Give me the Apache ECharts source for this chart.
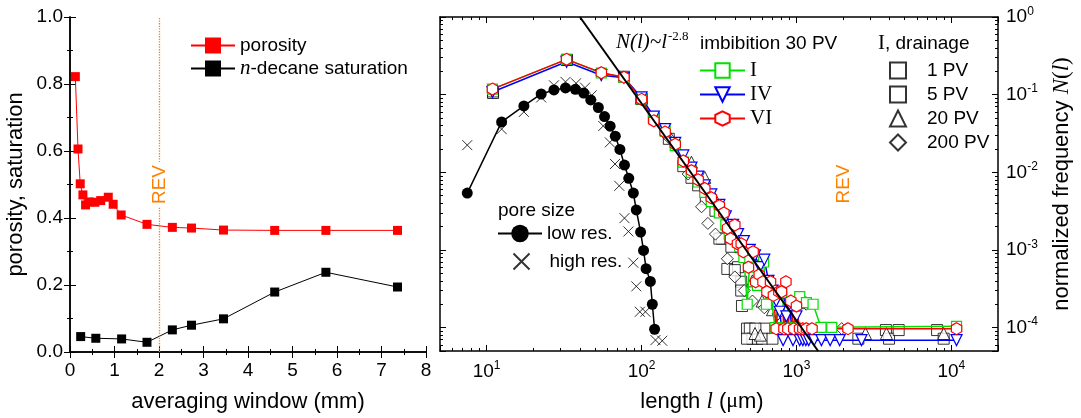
<!DOCTYPE html>
<html>
<head>
<meta charset="utf-8">
<script src="https://cdn.jsdelivr.net/npm/echarts@6/dist/echarts.min.js"></script>
<style>
  html, body { margin: 0; padding: 0; background: #fff; }
  #chart { width: 1081px; height: 418px; }
</style>
</head>
<body>
<div id="chart"></div>
<script>
// ---- left panel: averaging window (mm) ----
const porWin = [0.12, 0.18, 0.23, 0.29, 0.35, 0.43, 0.56, 0.69, 0.86, 0.97, 1.15, 1.73, 2.30, 2.73, 3.45, 4.60, 5.75, 7.36];
const porosity = [0.822, 0.606, 0.502, 0.469, 0.439, 0.448, 0.447, 0.452, 0.462, 0.441, 0.409, 0.381, 0.372, 0.370, 0.364, 0.363, 0.363, 0.363];
const satWin = [0.24, 0.58, 1.16, 1.73, 2.30, 2.73, 3.45, 4.60, 5.75, 7.36];
const saturation = [0.046, 0.041, 0.039, 0.029, 0.066, 0.080, 0.099, 0.179, 0.238, 0.194];
const revWindow = 2;

// ---- right panel: length l (um) vs normalized frequency ----
const lowResL = [7.5, 12.5, 17.4, 22.5, 27.2, 32.3, 37.4, 42.3, 47.0, 52.6, 57.7, 62.7, 67.7, 72.5, 77.6, 82.7, 88.5, 92.5, 98.6, 103, 107, 114, 117.4, 121.4];
const lowResN = [0.0054, 0.0446, 0.0716, 0.102, 0.115, 0.122, 0.117, 0.105, 0.0855, 0.0683, 0.0523, 0.0393, 0.0292, 0.0197, 0.0124, 0.00838, 0.0054, 0.00328, 0.0017, 0.000986, 0.000574, 0.000394, 0.0002, 0.0000953];
const highResL = [7.5, 12.5, 17.4, 22.5, 27.2, 32.3, 37.8, 43.2, 47.7, 56.6, 62.4, 67.4, 71.8, 77.6, 82.3, 88.5, 92.5, 97.5, 106, 123, 136];
const highResN = [0.0224, 0.036, 0.06, 0.092, 0.132, 0.146, 0.14, 0.123, 0.098, 0.0395, 0.0243, 0.0128, 0.0067, 0.00257, 0.00173, 0.000685, 0.00034, 0.00016, 0.00016, 0.0000691, 0.0000677];

const imbIL = [10.9, 32.8, 55, 77, 100, 120, 142, 165, 186, 210, 232, 256, 282, 318, 350, 368, 400, 430, 458, 481, 500, 530, 560, 614, 640, 680, 728, 760, 800, 850, 900, 960, 1050, 1160, 1280, 1440, 1690, 10800];
const imbIN = [0.118, 0.285, 0.190, 0.168, 0.088, 0.050, 0.034, 0.022, 0.0135, 0.0100, 0.0075, 0.0055, 0.0042, 0.0030, 0.0021, 0.0016, 0.0015, 0.0011, 0.0008, 0.0002, 0.00075, 0.0006, 0.00035, 0.0007, 0.0002, 0.00028, 0.0001, 0.0002, 0.00028, 0.0001, 0.00019, 0.0001, 0.00025, 0.00021, 0.0002, 0.000101, 0.000101, 0.000104];
const imbIVL = [10.9, 32.8, 55, 77, 100, 120, 142, 165, 186, 210, 232, 256, 282, 318, 350, 390, 420, 458, 500, 540, 580, 620, 660, 700, 740, 780, 820, 860, 900, 950, 1000, 1050, 1100, 1150, 1200, 1300, 1450, 1650, 1900, 2630, 10800];
const imbIVN = [0.108, 0.265, 0.178, 0.165, 0.092, 0.052, 0.036, 0.024, 0.0165, 0.0115, 0.0088, 0.0068, 0.0052, 0.0038, 0.0027, 0.0021, 0.0016, 0.0013, 0.0010, 0.00085, 0.0006, 0.00075, 0.0004, 0.0003, 0.00022, 0.00016, 0.000069, 0.00014, 0.0002, 0.000069, 0.00014, 0.000069, 0.000069, 0.000069, 0.000069, 0.000069, 0.000069, 0.000069, 0.000069, 0.000069, 0.000069];
const imbVIL = [10.9, 32.8, 55, 77, 100, 120, 142, 165, 186, 210, 232, 256, 282, 318, 340, 359, 375, 400, 416, 440, 454, 490, 525, 545, 575, 608, 645, 680, 710, 740, 770, 801, 830, 855, 880, 920, 960, 1000, 1047, 1100, 1160, 1260, 2150, 10800];
const imbVIN = [0.118, 0.285, 0.192, 0.168, 0.087, 0.046, 0.033, 0.023, 0.014, 0.0105, 0.0080, 0.0062, 0.0047, 0.0037, 0.0030, 0.0019, 0.0014, 0.0021, 0.0012, 0.0012, 0.00095, 0.0006, 0.00095, 0.00039, 0.00048, 0.00039, 0.00029, 0.00039, 0.00026, 0.000097, 0.00029, 0.00029, 0.000097, 0.00039, 0.000097, 0.00022, 0.000097, 0.00019, 0.000097, 0.000097, 0.000097, 0.000097, 0.000097, 0.000097];

const dr1L = [11, 33, 77, 100, 120, 186, 232, 300, 330, 358, 420, 440, 445, 480, 500, 520, 560, 620, 2510, 3780, 3960, 8090];
const dr1N = [0.105, 0.28, 0.17, 0.09, 0.05, 0.012, 0.0068, 0.0032, 0.0014, 0.00057, 0.0006, 0.00039, 0.00019, 0.000097, 0.000097, 0.000072, 0.000072, 0.000097, 0.000072, 0.000093, 0.000072, 0.000093];
const dr5L = [11, 33, 100, 150, 210, 260, 318, 380, 400, 440, 480, 543, 600, 700, 4570, 8920];
const dr5N = [0.11, 0.28, 0.088, 0.027, 0.0085, 0.0045, 0.0014, 0.0011, 0.00055, 0.0003, 0.000072, 0.000097, 0.000072, 0.000072, 0.000093, 0.000072];
const dr20L = [100, 145, 210, 256, 300, 380, 440, 520, 540, 585, 600, 700, 800, 1150, 2790, 3810, 8920];
const dr20N = [0.09, 0.035, 0.0135, 0.0086, 0.0045, 0.0021, 0.0011, 0.0004, 0.000084, 0.00008, 0.00022, 0.00017, 0.00013, 0.00021, 0.000084, 0.000084, 0.000084];
const dr200L = [150, 200, 244, 268, 300, 358, 400, 460, 520, 620, 760, 1157, 1960];
const dr200N = [0.028, 0.0095, 0.0036, 0.0022, 0.0016, 0.00077, 0.00045, 0.0003, 0.00022, 0.00018, 0.00015, 0.0002, 0.000097];

// power law N(l) ~ l^-2.8, end points
const fitL = [40, 1380];
const fitN = [1, 0.00005];
const revLength = 2000;

const sans = '"Liberation Sans", Arial, sans-serif';
const serif = '"Liberation Serif", "Times New Roman", serif';
const orange = '#FF8000';
const hexagon = 'path://M5,0L10,2.9L10,8.7L5,11.6L0,8.7L0,2.9Z';
const cross = 'path://M0,0L10,10M10,0L0,10';

function zip(a, b) { return a.map((v, i) => [v, b[i]]); }

function powLabel(v) {
  const lg = Math.log10(v);
  const e = Math.round(lg);
  if (Math.abs(lg - e) > 1e-6) return '';
  return '{b|10}{s|' + e + '}';
}
const powRich = {
  b: { fontSize: 19, fontFamily: sans, color: '#000' },
  s: { fontSize: 12, fontFamily: sans, color: '#000', padding: [0, 0, 11, 0] }
};

const tick = { inside: true, length: 6, lineStyle: { color: '#000', width: 1 } };
const minor = { show: true, length: 3, lineStyle: { color: '#000', width: 1 } };
const line = { lineStyle: { color: '#000', width: 1.5 } };
const label = { fontSize: 19, fontFamily: sans, color: '#000' };
const nameStyle = { fontSize: 22, fontFamily: sans, color: '#000' };

function mirror(base, pos) {
  return Object.assign({}, base, {
    position: pos, name: '', axisLabel: { show: false },
    axisTick: tick, splitLine: { show: false }
  });
}

const leftX = {
  gridIndex: 0, type: 'value', min: 0, max: 8, interval: 1,
  axisLine: line, axisTick: tick, minorTick: Object.assign({ splitNumber: 2 }, minor),
  axisLabel: Object.assign({ margin: 9 }, label), splitLine: { show: false },
  name: 'averaging window (mm)', nameLocation: 'middle', nameGap: 39, nameTextStyle: nameStyle
};
const leftY = {
  gridIndex: 0, type: 'value', min: 0, max: 1, interval: 0.2,
  axisLine: line, axisTick: tick, minorTick: Object.assign({ splitNumber: 2 }, minor),
  axisLabel: Object.assign({ margin: 7, formatter: v => v.toFixed(1) }, label), splitLine: { show: false },
  name: 'porosity, saturation', nameLocation: 'middle', nameGap: 43, nameTextStyle: nameStyle
};
const rightX = {
  gridIndex: 1, type: 'log', logBase: 10, min: 5, max: 20000,
  axisLine: line, axisTick: tick, minorTick: Object.assign({ splitNumber: 9 }, minor),
  axisLabel: { margin: 9, formatter: powLabel, rich: powRich }, splitLine: { show: false },
  name: '{a|length }{i|l}{a| (}{g|\u03bc}{a|m)}', nameLocation: 'middle', nameGap: 39,
  nameTextStyle: {
    fontSize: 22, fontFamily: sans, color: '#000', padding: [0, 34, 0, 0],
    rich: {
      a: { fontSize: 22, fontFamily: sans, color: '#000' },
      i: { fontSize: 23, fontFamily: serif, fontStyle: 'italic', color: '#000' },
      g: { fontSize: 22, fontFamily: serif, color: '#000' }
    }
  }
};
const rightY = {
  gridIndex: 1, type: 'log', logBase: 10, min: 0.00005, max: 1, position: 'right',
  axisLine: line, axisTick: tick, minorTick: Object.assign({ splitNumber: 9 }, minor),
  axisLabel: { margin: 8, formatter: powLabel, rich: powRich }, splitLine: { show: false },
  name: '{a|normalized frequency }{i|N}{p|(}{i|l}{p|)}', nameLocation: 'middle', nameGap: 52, nameRotate: 90,
  nameTextStyle: {
    fontSize: 22, fontFamily: sans, color: '#000',
    rich: {
      a: { fontSize: 22, fontFamily: sans, color: '#000' },
      i: { fontSize: 23, fontFamily: serif, fontStyle: 'italic', color: '#000' },
      p: { fontSize: 23, fontFamily: serif, color: '#000' }
    }
  }
};

function openScatter(name, data, symbol, size, rotate) {
  return {
    name: name, type: 'scatter', xAxisIndex: 2, yAxisIndex: 2, data: data,
    symbol: symbol, symbolSize: size, symbolRotate: rotate || 0, symbolKeepAspect: true,
    itemStyle: { color: '#fff', borderColor: '#000', borderWidth: 1 }, z: 2
  };
}
function imbLine(name, data, color, symbol, size, rotate) {
  return {
    name: name, type: 'line', xAxisIndex: 2, yAxisIndex: 2, data: data,
    symbol: symbol, symbolSize: size, symbolRotate: rotate || 0, symbolKeepAspect: true, showAllSymbol: true,
    lineStyle: { color: color, width: 1.5 },
    itemStyle: { color: '#fff', borderColor: color, borderWidth: 1.2 }, z: 3
  };
}
function revLine(x, lineStyle) {
  return {
    silent: true, symbol: 'none', data: [{ xAxis: x }], lineStyle: lineStyle,
    label: {
      show: true, formatter: 'REV', position: 'middle', distance: -10, color: orange,
      fontSize: 19, fontFamily: sans, backgroundColor: '#fff', padding: [0, 3]
    }
  };
}
function legendBase(extra) {
  return Object.assign({ orient: 'vertical', padding: 0 }, extra);
}

const chart = echarts.init(document.getElementById('chart'));
chart.setOption({
  animation: false,
  backgroundColor: '#fff',
  grid: [
    { left: 70, top: 17, width: 356, height: 335 },
    { left: 440, top: 17, width: 570, height: 335 }
  ],
  xAxis: [leftX, mirror(leftX, 'top'), rightX, mirror(rightX, 'top')],
  yAxis: [leftY, mirror(leftY, 'right'), rightY, mirror(rightY, 'left')],
  legend: [
    legendBase({
      data: ['porosity', 'n-decane saturation'], left: 190, top: 34,
      itemWidth: 44, itemHeight: 20, itemGap: 0,
      formatter: n => n === 'n-decane saturation' ? '{i|n}-decane saturation' : n,
      textStyle: { fontSize: 19, fontFamily: sans, color: '#000', lineHeight: 23,
        rich: { i: { fontSize: 21, fontFamily: serif, fontStyle: 'italic', color: '#000', lineHeight: 23 } } }
    }),
    legendBase({
      data: ['I', 'IV', 'VI'], left: 699, top: 60,
      itemWidth: 45, itemHeight: 18, itemGap: 3,
      textStyle: { fontSize: 21, fontFamily: serif, color: '#000', lineHeight: 18 }
    }),
    legendBase({
      data: ['1 PV', '5 PV', '20 PV', '200 PV'], left: 889, top: 61,
      itemWidth: 16, itemHeight: 16, itemGap: 5,
      formatter: n => '{p|' + n + '}',
      textStyle: { fontSize: 19, fontFamily: sans, color: '#000', lineHeight: 16,
        rich: { p: { fontSize: 19, fontFamily: sans, color: '#000', lineHeight: 16, padding: [0, 0, 0, 16] } } }
    }),
    legendBase({
      data: ['low res.'], left: 497, top: 224, itemWidth: 44, itemHeight: 22,
      textStyle: { fontSize: 19, fontFamily: sans, color: '#000' }
    }),
    legendBase({
      data: ['high res.'], left: 511, top: 251, itemWidth: 16, itemHeight: 16,
      formatter: n => '{p|' + n + '}',
      textStyle: { fontSize: 19, fontFamily: sans, color: '#000',
        rich: { p: { fontSize: 19, fontFamily: sans, color: '#000', padding: [0, 0, 0, 15] } } }
    })
  ],
  graphic: [
    { type: 'text', left: 700, top: 34, style: { text: 'imbibition 30 PV', fontSize: 19, fontFamily: sans, fill: '#000' } },
    { type: 'text', left: 878, top: 33, style: {
      text: '{r|I}{a|, drainage}', fill: '#000',
      rich: { r: { fontSize: 21, fontFamily: serif, fill: '#000' }, a: { fontSize: 19, fontFamily: sans, fill: '#000' } } } },
    { type: 'text', left: 498, top: 201, style: { text: 'pore size', fontSize: 19, fontFamily: sans, fill: '#000' } },
    { type: 'text', left: 616, top: 30, style: {
      text: '{n|N(l)~l}{s|-2.8}', fill: '#000',
      rich: {
        n: { fontSize: 21, fontFamily: serif, fontStyle: 'italic', fill: '#000' },
        s: { fontSize: 13, fontFamily: serif, fill: '#000', padding: [0, 0, 12, 1] }
      } } }
  ],
  series: [
    {
      name: 'porosity', type: 'line', xAxisIndex: 0, yAxisIndex: 0, data: zip(porWin, porosity),
      symbol: 'rect', symbolSize: 9, itemStyle: { color: '#FF0000' }, lineStyle: { color: '#FF0000', width: 1 },
      markLine: revLine(revWindow, { color: orange, type: 'dotted', width: 1.3 })
    },
    {
      name: 'n-decane saturation', type: 'line', xAxisIndex: 0, yAxisIndex: 0, data: zip(satWin, saturation),
      symbol: 'rect', symbolSize: 9, itemStyle: { color: '#000' }, lineStyle: { color: '#000', width: 1 }
    },
    openScatter('1 PV', zip(dr1L, dr1N), 'rect', 11),
    openScatter('5 PV', zip(dr5L, dr5N), 'rect', 11),
    openScatter('20 PV', zip(dr20L, dr20N), 'triangle', 12),
    openScatter('200 PV', zip(dr200L, dr200N), 'diamond', 12),
    {
      name: 'high res.', type: 'scatter', xAxisIndex: 2, yAxisIndex: 2, data: zip(highResL, highResN),
      symbol: cross, symbolSize: 10, itemStyle: { color: 'none', borderColor: '#000', borderWidth: 1 }
    },
    {
      name: 'low res.', type: 'line', xAxisIndex: 2, yAxisIndex: 2, data: zip(lowResL, lowResN),
      symbol: 'circle', symbolSize: 11, showAllSymbol: true,
      itemStyle: { color: '#000' }, lineStyle: { color: '#000', width: 1.5 }
    },
    imbLine('I', zip(imbIL, imbIN), '#00E000', 'rect', 10),
    imbLine('IV', zip(imbIVL, imbIVN), '#0000FF', 'triangle', 11, 180),
    imbLine('VI', zip(imbVIL, imbVIN), '#FF0000', hexagon, 12),
    {
      name: 'fit', type: 'line', xAxisIndex: 2, yAxisIndex: 2, data: zip(fitL, fitN),
      symbol: 'none', lineStyle: { color: '#000', width: 2 }, z: 5,
      markLine: revLine(revLength, { color: 'rgba(0,0,0,0)', width: 0 })
    }
  ]
});
</script>
</body>
</html>
